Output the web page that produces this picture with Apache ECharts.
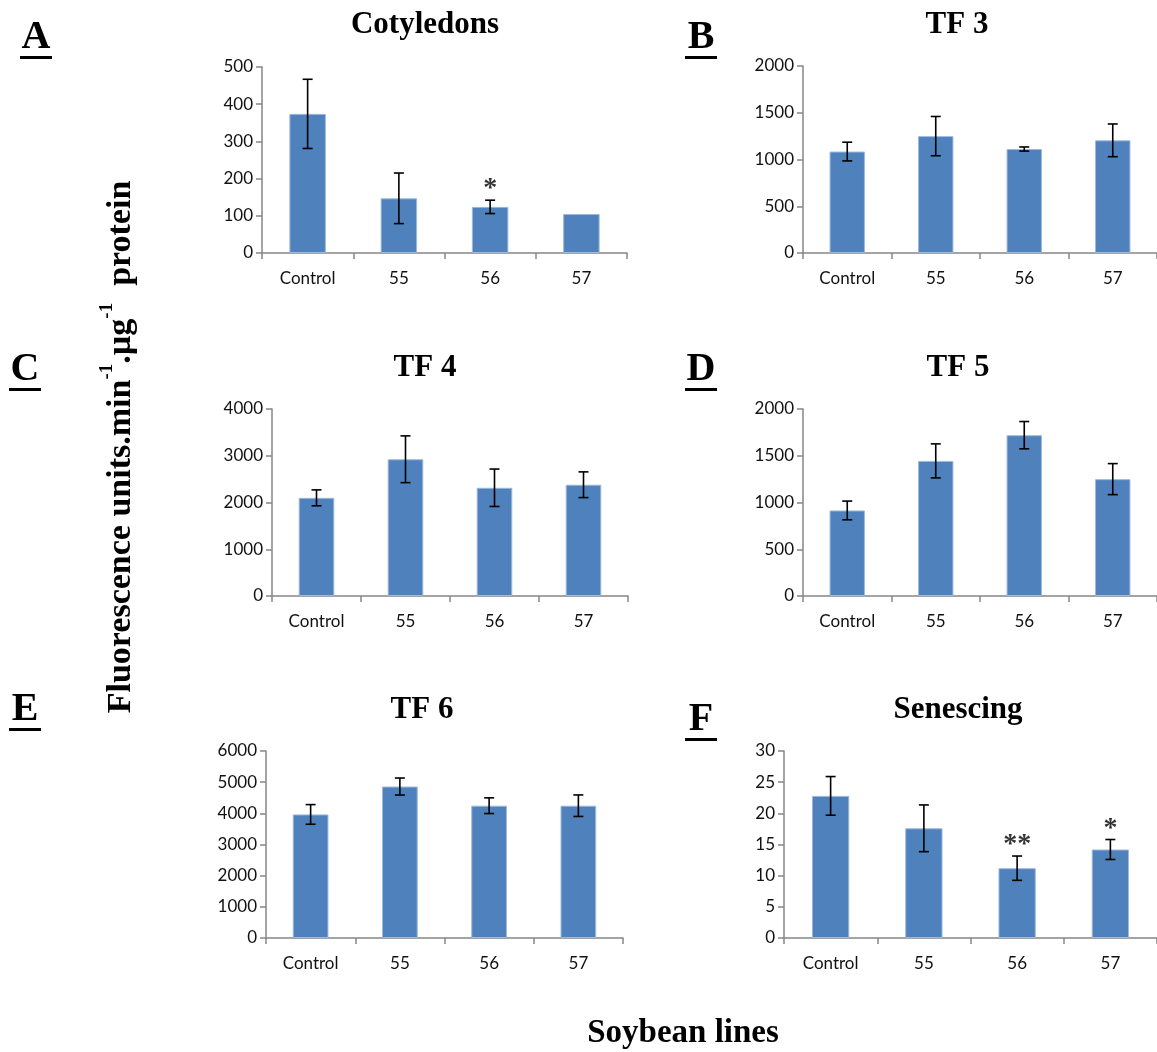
<!DOCTYPE html>
<html>
<head>
<meta charset="utf-8">
<script src="https://cdn.jsdelivr.net/npm/echarts@6/dist/echarts.min.js"></script>
<style>
  html, body { margin: 0; padding: 0; background: #fff; }
  #chart { width: 1157px; height: 1052px; }
</style>
</head>
<body>
<div id="chart"></div>
<script>
// Soybean lines compared against the control line
const categories = ['Control', '55', '56', '57'];

// Fluorescence units.min-1.µg-1 protein, mean and standard error per line
const cotyledonsMean = [374, 147, 124, 105];
const cotyledonsErr  = [93, 68, 18, 0];
const cotyledonsSig  = ['', '', '*', ''];

const tf3Mean = [1085, 1250, 1112, 1205];
const tf3Err  = [100, 210, 22, 175];

const tf4Mean = [2100, 2925, 2315, 2380];
const tf4Err  = [170, 500, 400, 275];

const tf5Mean = [915, 1445, 1720, 1250];
const tf5Err  = [100, 182, 146, 166];

const tf6Mean = [3965, 4860, 4245, 4245];
const tf6Err  = [315, 273, 252, 345];

const senescingMean = [22.8, 17.6, 11.2, 14.2];
const senescingErr  = [3.1, 3.75, 1.95, 1.6];
const senescingSig  = ['', '', '**', '*'];

// y-axis scales (max, step) per panel
const yScaleMax  = [500, 2000, 4000, 2000, 6000, 30];
const yScaleStep = [100, 500, 1000, 500, 1000, 5];

const panelLetters = ['A', 'B', 'C', 'D', 'E', 'F'];
const panelTitles  = ['Cotyledons', 'TF 3', 'TF 4', 'TF 5', 'TF 6', 'Senescing'];

const panels = [
  { mean: cotyledonsMean, err: cotyledonsErr, sig: cotyledonsSig },
  { mean: tf3Mean, err: tf3Err, sig: null },
  { mean: tf4Mean, err: tf4Err, sig: null },
  { mean: tf5Mean, err: tf5Err, sig: null },
  { mean: tf6Mean, err: tf6Err, sig: null },
  { mean: senescingMean, err: senescingErr, sig: senescingSig }
];

// plot-area layout of each panel
const layout = [
  { grid: { left: 262, top: 67,  width: 365, height: 186 }, title: [425, 25],  letter: [36, 38] },
  { grid: { left: 803, top: 66,  width: 356, height: 187 }, title: [957, 25],  letter: [701, 38] },
  { grid: { left: 272, top: 409, width: 356, height: 187 }, title: [425, 368], letter: [25, 370] },
  { grid: { left: 803, top: 409, width: 356, height: 187 }, title: [958, 368], letter: [701, 370] },
  { grid: { left: 266, top: 751, width: 357, height: 187 }, title: [422, 710], letter: [25, 710] },
  { grid: { left: 784, top: 751, width: 376, height: 187 }, title: [958, 710], letter: [701, 720] }
];

const AXIS_GRAY = '#868686';
const BAR_BLUE = '#4F81BD';
const LABEL_FONT = 'Lato';
const SERIF = '"Liberation Serif", "Times New Roman", serif';

const grids = [], xAxes = [], yAxes = [], series = [], graphics = [];

panels.forEach((p, i) => {
  grids.push(Object.assign({ containLabel: false }, layout[i].grid));

  xAxes.push({
    type: 'category',
    gridIndex: i,
    data: categories,
    boundaryGap: true,
    axisLine: { lineStyle: { color: AXIS_GRAY, width: 1.5 } },
    axisTick: { show: true, length: 6, lineStyle: { color: AXIS_GRAY, width: 1.5 } },
    axisLabel: { color: '#111', fontFamily: LABEL_FONT, fontSize: 17, margin: 17 }
  });

  yAxes.push({
    type: 'value',
    gridIndex: i,
    min: 0,
    max: yScaleMax[i],
    interval: yScaleStep[i],
    axisLine: { show: true, lineStyle: { color: AXIS_GRAY, width: 1.5 } },
    axisTick: { show: true, length: 6, lineStyle: { color: AXIS_GRAY, width: 1.5 } },
    splitLine: { show: false },
    axisLabel: {
      color: '#111', fontFamily: LABEL_FONT, fontSize: 17, margin: 9,
      formatter: v => String(v)
    }
  });

  // bars
  series.push({
    type: 'bar',
    xAxisIndex: i,
    yAxisIndex: i,
    data: p.mean,
    barWidth: '40%',
    itemStyle: { color: BAR_BLUE, borderColor: '#9DB9DC', borderWidth: 1 },
    silent: true,
    animation: false
  });

  // error bars
  series.push({
    type: 'custom',
    xAxisIndex: i,
    yAxisIndex: i,
    z: 5,
    silent: true,
    animation: false,
    data: p.mean.map((m, k) => [k, m, p.err[k]]),
    encode: { x: 0, y: 1 },
    renderItem: function (params, api) {
      const x = api.value(0), m = api.value(1), e = api.value(2);
      if (!e) return null;
      const hi = api.coord([x, m + e]);
      const lo = api.coord([x, m - e]);
      const cap = 5;
      const st = { stroke: '#000', lineWidth: 1.6 };
      return {
        type: 'group',
        children: [
          { type: 'line', shape: { x1: hi[0], y1: hi[1], x2: lo[0], y2: lo[1] }, style: st },
          { type: 'line', shape: { x1: hi[0] - cap, y1: hi[1], x2: hi[0] + cap, y2: hi[1] }, style: st },
          { type: 'line', shape: { x1: lo[0] - cap, y1: lo[1], x2: lo[0] + cap, y2: lo[1] }, style: st }
        ]
      };
    }
  });

  // significance asterisks above the error bars
  if (p.sig) {
    series.push({
      type: 'scatter',
      xAxisIndex: i,
      yAxisIndex: i,
      symbolSize: 0,
      silent: true,
      animation: false,
      z: 6,
      data: p.mean.map((m, k) => ({ value: [k, m + p.err[k]], mark: p.sig[k] }))
        .filter(d => d.mark),
      label: {
        show: true,
        position: 'top',
        distance: 0,
        offset: [0, 3],
        formatter: d => d.data.mark,
        fontFamily: SERIF,
        fontWeight: 'bold',
        fontSize: 28,
        color: '#000'
      }
    });
  }

  // panel title
  graphics.push({
    type: 'text',
    x: layout[i].title[0],
    y: layout[i].title[1],
    style: {
      text: panelTitles[i],
      align: 'center',
      verticalAlign: 'middle',
      font: 'bold 31px ' + SERIF,
      fill: '#000'
    }
  });

  // underlined panel letter
  const lx = layout[i].letter[0], ly = layout[i].letter[1];
  graphics.push({
    type: 'text',
    x: lx,
    y: ly,
    style: {
      text: panelLetters[i],
      align: 'center',
      verticalAlign: 'middle',
      font: 'bold 40px ' + SERIF,
      fill: '#000'
    }
  });
  graphics.push({
    type: 'rect',
    shape: { x: lx - 16, y: ly + 18, width: 32, height: 3 },
    style: { fill: '#000' }
  });
});

// shared axis titles
graphics.push({
  type: 'text',
  x: 118,
  y: 447,
  rotation: Math.PI / 2,
  style: {
    text: '{a|Fluorescence units.min}{s|-1}{a|.µg}{s|-1}{a|  protein}',
    align: 'center',
    verticalAlign: 'middle',
    rich: {
      a: { fontFamily: SERIF, fontWeight: 'bold', fontSize: 34, lineHeight: 40, verticalAlign: 'bottom', fill: '#000' },
      s: { fontFamily: SERIF, fontWeight: 'bold', fontSize: 19, lineHeight: 40, verticalAlign: 'top', fill: '#000' }
    }
  }
});
graphics.push({
  type: 'text',
  x: 683,
  y: 1033,
  style: {
    text: 'Soybean lines',
    align: 'center',
    verticalAlign: 'middle',
    font: 'bold 33px ' + SERIF,
    fill: '#000'
  }
});

const chart = echarts.init(document.getElementById('chart'), null, { renderer: 'canvas' });
chart.setOption({
  backgroundColor: '#fff',
  animation: false,
  grid: grids,
  xAxis: xAxes,
  yAxis: yAxes,
  series: series,
  graphic: graphics
});
</script>
</body>
</html>
